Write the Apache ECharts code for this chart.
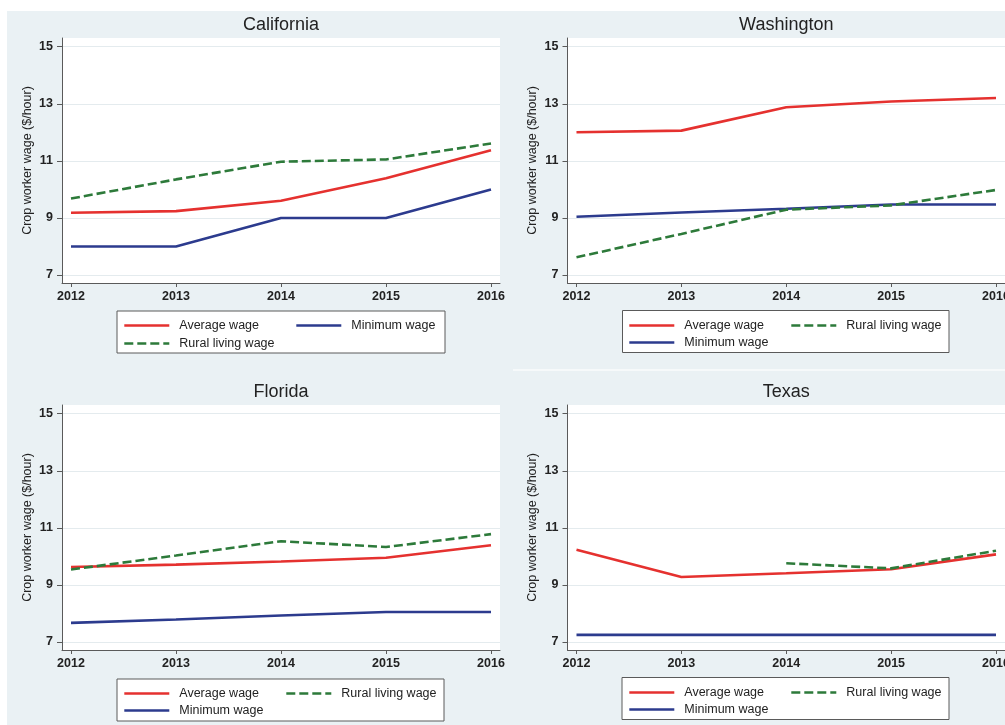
<!DOCTYPE html>
<html>
<head>
<meta charset="utf-8">
<script src="https://cdn.jsdelivr.net/npm/echarts@6/dist/echarts.min.js"></script>
<style>
  html, body { margin: 0; padding: 0; background: #ffffff; }
  #chart { width: 1005px; height: 725px; }
</style>
</head>
<body>
<div id="chart"></div>
<script>
// ---------- data ----------
const years = [2012, 2013, 2014, 2015, 2016];
const yTicks = [7, 9, 11, 13, 15];
const states = ['California', 'Washington', 'Florida', 'Texas'];
const seriesNames = ['Average wage', 'Minimum wage', 'Rural living wage'];

const avgCalifornia = [9.18, 9.24, 9.60, 10.39, 11.37];
const minCalifornia = [8.00, 8.00, 9.00, 9.00, 10.00];
const rlwCalifornia = [9.68, 10.35, 10.97, 11.05, 11.61];

const avgWashington = [12.00, 12.06, 12.88, 13.08, 13.20];
const minWashington = [9.04, 9.19, 9.32, 9.47, 9.47];
const rlwWashington = [7.62, 8.44, 9.29, 9.44, 9.98];

const avgFlorida = [9.63, 9.71, 9.82, 9.95, 10.39];
const minFlorida = [7.67, 7.79, 7.93, 8.05, 8.05];
const rlwFlorida = [9.54, 10.03, 10.53, 10.33, 10.78];

const avgTexas = [10.23, 9.28, 9.41, 9.55, 10.07];
const minTexas = [7.25, 7.25, 7.25, 7.25, 7.25];
const rlwTexas = [null, null, 9.76, 9.58, 10.20];

const panelData = [
  [avgCalifornia, minCalifornia, rlwCalifornia],
  [avgWashington, minWashington, rlwWashington],
  [avgFlorida, minFlorida, rlwFlorida],
  [avgTexas, minTexas, rlwTexas]
];

// ---------- layout / style ----------
const FONT = '"Liberation Sans", Arial, Helvetica, sans-serif';
const TXT = '#222222';
const colors = ['#e5312f', '#2c3b8e', '#2d7a3a'];
const lineTypes = ['solid', 'solid', [9, 4]];

const grids = [
  { left: 62,    top: 38,  width: 438,   height: 245 },
  { left: 567.5, top: 38,  width: 437.5, height: 245 },
  { left: 62,    top: 405, width: 438,   height: 245 },
  { left: 567.5, top: 405, width: 437.5, height: 245 }
];
const titleTops = [16, 16, 383, 383];

// legend entries: [seriesIndex, left, top]
const legendPos = [
  [[0, 123, 319], [1, 295, 319], [2, 123, 337]],
  [[0, 628, 319], [2, 790, 319], [1, 628, 336]],
  [[0, 123, 687], [2, 285, 687], [1, 123, 704]],
  [[0, 628, 686], [2, 790, 686], [1, 628, 703]]
];
const legendBoxes = [
  [117, 311, 328, 42],
  [622.5, 310.5, 326.5, 42],
  [117, 679, 327, 42],
  [622, 677.5, 327, 42]
];

const X_PAD = 9 / 105;
const options = {
  animation: false,
  backgroundColor: '#ffffff',
  textStyle: { fontFamily: FONT },
  graphic: [],
  title: [],
  grid: [],
  xAxis: [],
  yAxis: [],
  legend: [],
  series: []
};

options.graphic.push({
  type: 'rect', silent: true, z: -10,
  shape: { x: 7, y: 11, width: 998, height: 714 },
  style: { fill: '#eaf1f4' }
});
options.graphic.push({
  type: 'line', silent: true, z: -9,
  shape: { x1: 513, y1: 370, x2: 1005, y2: 370 },
  style: { stroke: '#f6f9fa', lineWidth: 2 }
});

states.forEach((st, p) => {
  const g = grids[p];
  options.grid.push(Object.assign({
    show: true, backgroundColor: '#ffffff', borderWidth: 0,
    containLabel: false, outerBoundsMode: 'none'
  }, g));
  options.title.push({
    text: st,
    left: g.left + g.width / 2,
    top: titleTops[p],
    textAlign: 'center',
    padding: 0,
    textStyle: { fontFamily: FONT, fontSize: 18, fontWeight: 'normal', color: TXT }
  });
  options.xAxis.push({
    type: 'value', gridIndex: p,
    min: years[0] - X_PAD, max: years[years.length - 1] + X_PAD,
    axisLine: { show: true, onZero: false, lineStyle: { color: '#5a5a5a', width: 1 } },
    axisTick: { show: true, length: 4, customValues: years, lineStyle: { color: '#5a5a5a' } },
    axisLabel: {
      customValues: years, margin: 7,
      formatter: v => String(v),
      fontFamily: FONT, fontSize: 12.5, fontWeight: 'bold', color: TXT
    },
    splitLine: { show: false }
  });
  options.yAxis.push({
    type: 'value', gridIndex: p,
    min: 6.72, max: 15.305,
    name: 'Crop worker wage ($/hour)',
    nameLocation: 'middle', nameRotate: 90, nameGap: 28,
    nameTextStyle: { fontFamily: FONT, fontSize: 12.5, color: TXT },
    axisLine: { show: true, lineStyle: { color: '#5a5a5a', width: 1 } },
    axisTick: { show: true, length: 5, customValues: yTicks, lineStyle: { color: '#5a5a5a' } },
    axisLabel: {
      customValues: yTicks, margin: 9,
      formatter: v => String(v),
      fontFamily: FONT, fontSize: 12.5, fontWeight: 'bold', color: TXT
    },
    splitLine: { show: true, lineStyle: { color: '#e4ebee', width: 1 } }
  });
  panelData[p].forEach((vals, k) => {
    options.series.push({
      type: 'line',
      name: seriesNames[k],
      xAxisIndex: p, yAxisIndex: p,
      data: years.map((y, i) => [y, vals[i]]),
      symbol: 'none',
      connectNulls: false,
      lineStyle: { color: colors[k], width: 2.6, type: lineTypes[k] },
      itemStyle: { color: colors[k] },
      z: 3 + (k === 2 ? 1 : 0)
    });
  });
  const b = legendBoxes[p];
  options.graphic.push({
    type: 'rect', silent: true, z: 1,
    shape: { x: b[0], y: b[1], width: b[2], height: b[3] },
    style: { fill: '#ffffff', stroke: '#5a5a5a', lineWidth: 1 }
  });
  legendPos[p].forEach(([k, lx, ly]) => {
    options.legend.push({
      data: [seriesNames[k]],
      left: lx, top: ly,
      orient: 'horizontal',
      padding: 0,
      itemWidth: 45, itemHeight: 10,
      selectedMode: false,
      itemStyle: { opacity: 0 },
      lineStyle: { width: 2.6 },
      textStyle: { fontFamily: FONT, fontSize: 12.5, color: TXT, padding: [0, 0, 0, 5] },
      z: 5
    });
  });
});

const chart = echarts.init(document.getElementById('chart'), null, { renderer: 'canvas' });
chart.setOption(options);
</script>
</body>
</html>
